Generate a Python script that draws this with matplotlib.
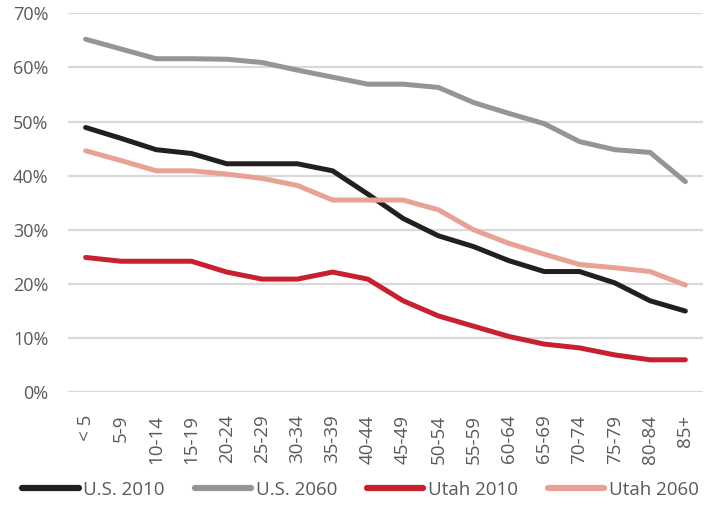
import matplotlib
matplotlib.use("Agg")
import matplotlib.pyplot as plt
import numpy as np

# age groups on the x axis
ages = ['< 5', '5-9', '10-14', '15-19', '20-24', '25-29', '30-34', '35-39',
        '40-44', '45-49', '50-54', '55-59', '60-64', '65-69', '70-74',
        '75-79', '80-84', '85+']

# percent values
us_2010 = [48.9, 46.9, 44.8, 44.1, 42.2, 42.2, 42.2, 40.9, 36.6, 32.1,
           28.9, 26.9, 24.3, 22.3, 22.3, 20.2, 16.9, 15.0]
us_2060 = [65.2, 63.4, 61.6, 61.6, 61.5, 60.9, 59.5, 58.2, 56.9, 56.9,
           56.3, 53.5, 51.5, 49.6, 46.3, 44.8, 44.3, 38.9]
utah_2010 = [24.9, 24.2, 24.2, 24.2, 22.2, 20.9, 20.9, 22.2, 20.9, 16.9,
             14.1, 12.2, 10.3, 8.9, 8.2, 6.9, 6.0, 6.0]
utah_2060 = [44.6, 42.8, 40.9, 40.9, 40.3, 39.5, 38.2, 35.5, 35.5, 35.5,
             33.7, 30.0, 27.5, 25.5, 23.6, 23.0, 22.3, 19.8]

series = [('U.S. 2010', us_2010, '#231f20'),
          ('U.S. 2060', us_2060, '#939598'),
          ('Utah 2010', utah_2010, '#c8202f'),
          ('Utah 2060', utah_2060, '#e8a295')]

plt.rcParams['font.family'] = ['Open Sans', 'DejaVu Sans']
text_col = '#58595b'

fig = plt.figure(figsize=(7.21, 5.09), dpi=100)
ax = fig.add_axes([0.0943, 0.2293, 0.8807, 0.7447])

x = np.arange(len(ages))
for name, vals, col in series:
    ax.plot(x, vals, color=col, lw=3.6, label=name, solid_capstyle='round',
            solid_joinstyle='round', zorder=3)

ax.set_xlim(-0.5, len(ages) - 0.5)
ax.set_ylim(0, 70)
ax.set_yticks(range(0, 71, 10))
ax.set_yticklabels([f'{v}%' for v in range(0, 71, 10)], fontsize=13, color=text_col)
ax.set_xticks(x)
ax.set_xticklabels(ages, rotation=90, fontsize=13.5, color=text_col)
ax.tick_params(length=0)
ax.tick_params(axis='y', pad=14)
ax.tick_params(axis='x', pad=16)
ax.grid(axis='y', color='#d9d9d9', lw=1.6, zorder=0)
for s in ax.spines.values():
    s.set_visible(False)

leg = fig.legend(loc='center', bbox_to_anchor=(0.5, 1 - 490 / 509), ncol=4,
                 frameon=False, handlelength=3.0, handletextpad=0.25,
                 columnspacing=1.6, borderpad=0,
                 prop={'size': 13.5})
for t in leg.get_texts():
    t.set_color(text_col)
for h in leg.get_lines():
    h.set_linewidth(4.5)

fig.savefig('out.png', dpi=100)
